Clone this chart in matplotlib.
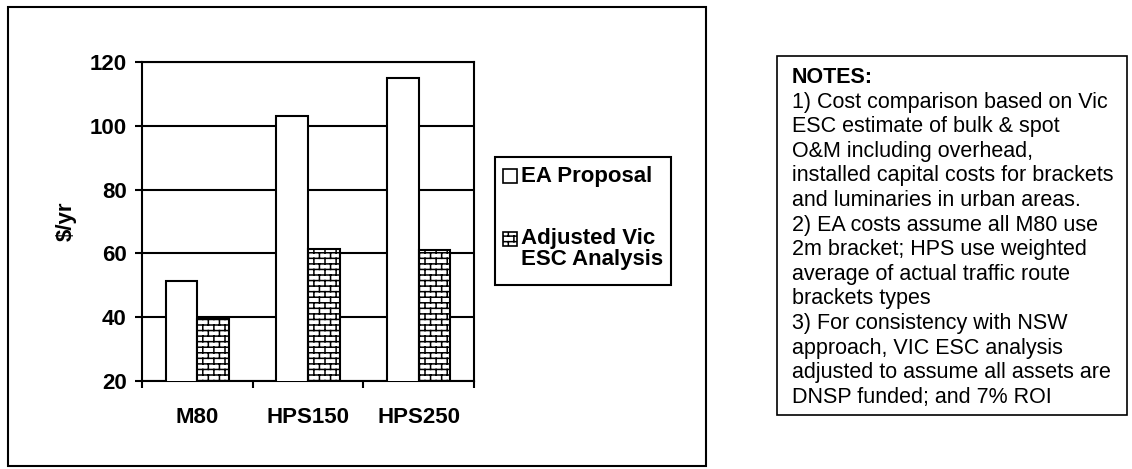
import warnings
import numpy as np
import matplotlib
matplotlib.use("Agg")
import matplotlib.pyplot as plt
import matplotlib.hatch as mhatch
from matplotlib.patches import Rectangle
from matplotlib.path import Path

warnings.filterwarnings("ignore", message=".*hatch must consist.*")

# ---------------- data ----------------
categories = ["M80", "HPS150", "HPS250"]
ea_proposal = [51.5, 103, 115]
adjusted_vic_esc = [39.5, 61.5, 61]
series_labels = ["EA Proposal", "Adjusted Vic\nESC Analysis"]
y_ticks = [20, 40, 60, 80, 100, 120]
y_label = "$/yr"
notes_title = "NOTES:"
notes_lines = [
    "1) Cost comparison based on Vic",
    "ESC estimate of bulk & spot",
    "O&M including overhead,",
    "installed capital costs for brackets",
    "and luminaries in urban areas.",
    "2) EA costs assume all M80 use",
    "2m bracket; HPS use weighted",
    "average of actual traffic route",
    "brackets types",
    "3) For consistency with NSW",
    "approach, VIC ESC analysis",
    "adjusted to assume all assets are",
    "DNSP funded; and 7% ROI",
]


# ---------------- brick hatch ----------------
class BrickHatch(mhatch.HatchPatternBase):
    def __init__(self, hatch, density):
        rows = 18 if "b" in hatch else 0
        cols = rows // 2
        segs = []
        if rows:
            for i in range(rows):
                y = (i + 0.5) / rows
                segs.append(((0.0, y), (1.0, y)))
            for k in range(rows):
                off = 0.25 if k % 2 == 0 else 0.75
                ya = (k + 0.5) / rows
                yb = (k + 1.5) / rows
                for j in range(cols):
                    x = (j + off) / cols
                    if yb <= 1.0:
                        segs.append(((x, ya), (x, yb)))
                    else:
                        segs.append(((x, ya), (x, 1.0)))
                        segs.append(((x, 0.0), (x, yb - 1.0)))
        self.segs = segs
        self.num_vertices = 2 * len(segs)

    def set_vertices_and_codes(self, vertices, codes):
        for n, (a, b) in enumerate(self.segs):
            vertices[2 * n] = a
            vertices[2 * n + 1] = b
            codes[2 * n] = Path.MOVETO
            codes[2 * n + 1] = Path.LINETO


mhatch._hatch_types.append(BrickHatch)

plt.rcParams["font.family"] = ["Liberation Sans", "DejaVu Sans"]
plt.rcParams["hatch.linewidth"] = 1.1
plt.rcParams["hatch.color"] = "black"

W, H = 1132, 469
fig = plt.figure(figsize=(W / 100, H / 100), dpi=100)


def fx(px):
    return px / W


def fy(py):
    return 1 - py / H


# outer chart frame
fig.add_artist(Rectangle((fx(8), fy(466)), fx(706) - fx(8), fy(7) - fy(466),
                         transform=fig.transFigure, fill=False, lw=1.5,
                         edgecolor="black"))

ax = fig.add_axes([fx(142), fy(381), fx(474) - fx(142), fy(62) - fy(381)])
x = np.arange(len(categories))
w = 0.2857
ax.bar(x - w / 2, ea_proposal, w, facecolor="white", edgecolor="black",
       lw=1.5, zorder=3)
ax.bar(x + w / 2, adjusted_vic_esc, w, facecolor="white", edgecolor="black",
       lw=1.5, hatch="b", zorder=3)

ax.set_xlim(-0.5, len(categories) - 0.5)
ax.set_ylim(y_ticks[0], y_ticks[-1])
ax.set_yticks(y_ticks)
ax.set_xticks(x)
ax.set_xticklabels(categories, fontsize=16, fontweight="bold")
ax.set_xticks(np.arange(len(categories) + 1) - 0.5, minor=True)
ax.tick_params(axis="x", which="major", length=0, pad=19)
ax.tick_params(axis="x", which="minor", length=5, width=1.5, direction="out")
ax.tick_params(axis="y", length=5, width=1.5, direction="out", pad=6,
               labelsize=16)
for lab in ax.get_yticklabels():
    lab.set_fontweight("bold")
ax.yaxis.grid(True, color="black", lw=1.5)
ax.set_axisbelow(True)
for s in ax.spines.values():
    s.set_linewidth(1.5)
ax.set_ylabel(y_label, fontsize=16, fontweight="bold", labelpad=9)

# legend (drawn as box with sample swatches)
fig.add_artist(Rectangle((fx(495), fy(285)), fx(671) - fx(495), fy(157) - fy(285),
                         transform=fig.transFigure, fill=False, lw=1.5,
                         edgecolor="black"))
sw = 14
fig.add_artist(Rectangle((fx(503), fy(176 + sw / 2)), fx(sw), fy(0) - fy(sw),
                         transform=fig.transFigure, facecolor="white",
                         edgecolor="black", lw=1.2))
fig.add_artist(Rectangle((fx(503), fy(239 + sw / 2)), fx(sw), fy(0) - fy(sw),
                         transform=fig.transFigure, facecolor="white",
                         edgecolor="black", lw=1.2, hatch="b"))
fig.text(fx(521), fy(176), series_labels[0], fontsize=16, fontweight="bold",
         va="center", ha="left")
fig.text(fx(521), fy(239 - 11), series_labels[1], fontsize=16,
         fontweight="bold", va="top", ha="left", linespacing=1.0)

# notes box
pitch = 24.6
base0 = 83
last_base = base0 + pitch * len(notes_lines)
fig.add_artist(Rectangle((fx(777), fy(last_base + 12)), fx(1127) - fx(777),
                         fy(56) - fy(last_base + 12),
                         transform=fig.transFigure, fill=False, lw=1.2,
                         edgecolor="black"))
fig.text(fx(792), fy(base0), notes_title, fontsize=15.5, fontweight="bold",
         va="baseline", ha="left")
for k, line in enumerate(notes_lines, start=1):
    fig.text(fx(792), fy(base0 + pitch * k), line, fontsize=15.5,
             va="baseline", ha="left")

fig.savefig("out.png", dpi=100)
